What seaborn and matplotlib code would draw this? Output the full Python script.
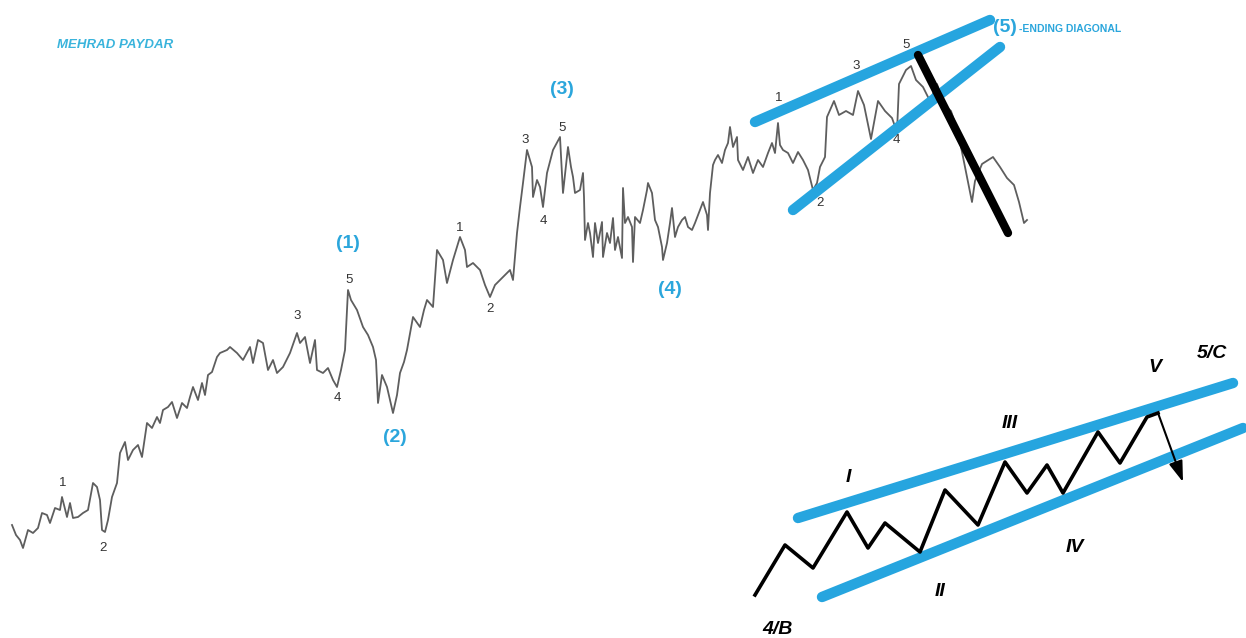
import matplotlib
matplotlib.use("Agg")
import matplotlib.pyplot as plt
import seaborn as sns

# price path (x = bar position, y = screen level, top = 0)
bar_x = [12, 16, 20, 23, 28, 33, 38, 42, 47, 50,
         55, 60, 62, 67, 70, 73, 78, 83, 88, 93,
         97, 100, 102, 105, 108, 112, 117, 120, 125, 128,
         133, 138, 142, 147, 152, 157, 160, 163, 168, 172,
         177, 182, 187, 190, 193, 198, 202, 205, 208, 212,
         217, 220, 227, 230, 237, 243, 250, 253, 258, 263,
         268, 273, 277, 283, 290, 297, 300, 305, 310, 315,
         317, 323, 328, 333, 337, 341, 345, 348, 351, 357,
         363, 368, 373, 376, 378, 382, 387, 390, 393, 397,
         400, 404, 407, 413, 420, 424, 427, 433, 437, 443,
         447, 453, 460, 465, 467, 473, 480, 485, 490, 495,
         500, 505, 510, 513, 517, 520, 523, 527, 532, 533,
         537, 540, 543, 547, 553, 560, 563, 568, 571, 573,
         575, 580, 583, 584, 585, 588, 590, 593, 595, 598,
         602, 603, 607, 610, 613, 615, 618, 622, 623, 625,
         628, 632, 633, 635, 640, 643, 647, 648, 652, 655,
         658, 662, 663, 667, 670, 672, 675, 678, 682, 685,
         688, 692, 695, 700, 703, 707, 708, 710, 713, 715,
         718, 722, 725, 728, 730, 733, 737, 738, 743, 748,
         753, 758, 763, 768, 772, 775, 778, 780, 783, 788,
         793, 798, 803, 808, 813, 817, 820, 825, 827, 834,
         839, 846, 853, 858, 864, 871, 878, 885, 892, 897,
         899, 906, 911, 916, 923, 930, 937, 944, 951, 958,
         965, 972, 975, 982, 993, 1000, 1007, 1014, 1019, 1024, 1027]
level = [525, 535, 540, 548, 530, 533, 528, 513, 515, 523,
         508, 510, 497, 517, 503, 518, 517, 513, 510, 483,
         487, 500, 530, 532, 520, 497, 483, 453, 442, 460,
         450, 445, 457, 423, 428, 417, 423, 410, 407, 402,
         418, 403, 408, 397, 387, 400, 383, 395, 375, 372,
         357, 353, 350, 347, 353, 360, 347, 363, 340, 343,
         370, 360, 373, 367, 353, 333, 343, 337, 363, 340,
         370, 373, 368, 380, 387, 370, 350, 290, 300, 310,
         327, 335, 347, 360, 403, 375, 387, 400, 413, 395,
         373, 362, 350, 317, 327, 310, 300, 307, 250, 260,
         283, 260, 237, 250, 267, 263, 270, 285, 297, 285,
         280, 275, 270, 280, 233, 207, 183, 150, 167, 197,
         180, 187, 207, 173, 150, 137, 193, 147, 167, 177,
         193, 190, 173, 197, 240, 223, 233, 257, 223, 243,
         222, 257, 233, 243, 218, 250, 237, 258, 188, 223,
         217, 227, 262, 217, 223, 210, 190, 183, 193, 220,
         227, 247, 260, 243, 223, 208, 237, 227, 220, 217,
         227, 230, 223, 210, 202, 215, 230, 193, 165, 160,
         155, 163, 150, 143, 127, 147, 137, 160, 170, 157,
         173, 160, 167, 153, 143, 153, 123, 145, 150, 153,
         163, 152, 160, 170, 190, 183, 167, 157, 117, 101,
         115, 111, 115, 91, 105, 139, 101, 111, 118, 132,
         84, 70, 66, 80, 87, 101, 84, 105, 111, 132,
         167, 202, 181, 164, 157, 167, 178, 185, 202, 223, 220]

# sub-wave labels (black) and primary wave labels (blue)
minor_text = ["1", "2", "3", "4", "5", "1", "2", "3", "4", "5", "1", "2", "3", "4", "5"]
minor_x = [63, 103, 297, 337, 349, 460, 490, 525, 543, 562, 779, 820, 856, 896, 906]
minor_y = [483, 548, 316, 398, 280, 228, 309, 140, 221, 128, 98, 203, 66, 140, 45]
major_text = ["(1)", "(2)", "(3)", "(4)", "(5)"]
major_x = [348, 395, 562, 670, 1005]
major_y = [243, 437, 90, 290, 27]

# ending diagonal trend lines on the chart
diag_upper = ([755, 990], [122, 20])
diag_lower = ([793, 1000], [210, 47])
break_line = ([918, 1008], [55, 233])

# schematic of an ending diagonal
zig_x = [755, 785, 813, 847, 868, 885, 920, 945, 978, 1005, 1027, 1047, 1063, 1098, 1120, 1147, 1158]
zig_y = [595, 545, 568, 512, 548, 523, 552, 490, 525, 462, 493, 465, 493, 432, 463, 417, 413]
sch_upper = ([798, 1233], [518, 383])
sch_lower = ([822, 1243], [597, 428])
roman_text = ["I", "II", "III", "IV", "V", "5/C", "4/B"]
roman_x = [848, 940, 1010, 1075, 1155, 1212, 778]
roman_y = [478, 592, 423, 547, 368, 353, 630]

blue = "#26a5df"
text_blue = "#2ba6dc"

fig = plt.figure(figsize=(12.46, 6.38), dpi=100)
ax = fig.add_axes([0, 0, 1, 1])

sns.lineplot(x=bar_x, y=level, ax=ax, color="#5e5e5e", linewidth=1.3,
             sort=False, estimator=None)

for xs, ys in [diag_upper, diag_lower]:
    ax.plot(xs, ys, color=blue, linewidth=7.5, solid_capstyle="round")
ax.plot(*break_line, color="black", linewidth=6, solid_capstyle="round")

for s, x, y in zip(minor_text, minor_x, minor_y):
    ax.text(x, y, s, fontsize=9.5, color="#333333", ha="center", va="center",
            family="Liberation Sans")
for s, x, y in zip(major_text, major_x, major_y):
    ax.text(x, y, s, fontsize=14, color=text_blue, ha="center", va="center",
            fontweight="bold", family="Liberation Sans")
ax.text(1019, 29, "-ENDING DIAGONAL", fontsize=7.5, color=text_blue, ha="left",
        va="center", fontweight="bold", family="Liberation Sans")
ax.text(115, 45, "MEHRAD PAYDAR", fontsize=9.5, color="#3ab4dc", ha="center", va="center",
        fontweight="bold", fontstyle="italic", family="Liberation Sans")

# schematic
for xs, ys in [sch_upper, sch_lower]:
    ax.plot(xs, ys, color=blue, linewidth=7.5, solid_capstyle="round")
sns.lineplot(x=zig_x, y=zig_y, ax=ax, color="black", linewidth=2.6,
             sort=False, estimator=None)
ax.annotate("", xy=(1183, 482), xytext=(zig_x[-1], zig_y[-1]),
            arrowprops=dict(arrowstyle="-|>,head_width=0.3,head_length=0.9", color="black",
                            lw=1.5, mutation_scale=14, shrinkA=0, shrinkB=0))
for s, x, y in zip(roman_text, roman_x, roman_y):
    ax.text(x, y, s, fontsize=14, color="black", ha="center", va="center",
            fontweight="bold", fontstyle="italic", family="Liberation Sans")

ax.set_xlim(0, 1246)
ax.set_ylim(638, 0)
ax.axis("off")

fig.savefig("out.png", dpi=100, facecolor="white")
